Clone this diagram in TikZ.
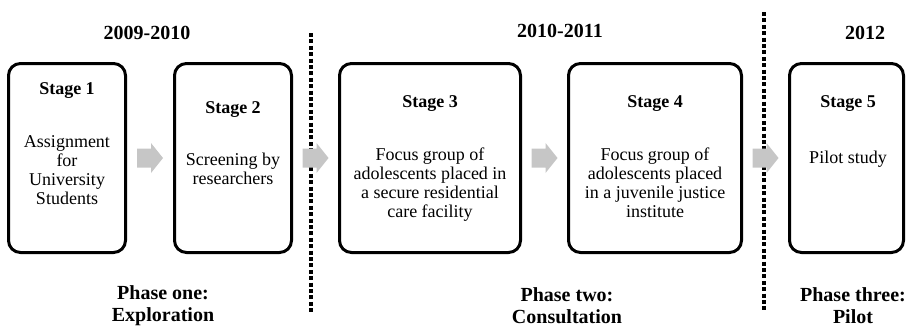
\documentclass[tikz,border=0pt]{standalone}
\usepackage{fontspec}
\setmainfont{Liberation Serif}
\usetikzlibrary{calc}
\definecolor{arrowgray}{RGB}{198,198,198}
\begin{document}
\begin{tikzpicture}[x=1pt,y=-1pt,
  stagebox/.style={draw=black, line width=3pt, rounded corners=12pt, minimum height=189pt, inner sep=0pt},
  stagetitle/.style={font=\fontsize{18}{19}\selectfont\bfseries, inner sep=0pt},
  stagebody/.style={font=\fontsize{18}{19}\selectfont, align=center, inner sep=0pt},
  yearlabel/.style={font=\fontsize{20}{22}\selectfont\bfseries, inner sep=0pt},
  phaselabel/.style={font=\fontsize{20}{22}\selectfont\bfseries, align=center, inner sep=0pt},
  sepline/.style={line width=3.5pt, dash pattern=on 4pt off 2.4pt},
  blockarrow/.style={fill=arrowgray, draw=none}
]
\useasboundingbox (0,0) rectangle (908,327);

% boxes
\node[stagebox, minimum width=117pt] (b1) at (67,158) {};
\node[stagebox, minimum width=117pt] (b2) at (233,158) {};
\node[stagebox, minimum width=181pt] (b3) at (430,158) {};
\node[stagebox, minimum width=173pt] (b4) at (655,158) {};
\node[stagebox, minimum width=114pt] (b5) at (846.5,158) {};

% titles
\node[stagetitle] (t1) at (67,91) {Stage 1};
\node[stagetitle] (t2) at (233,110) {Stage 2};
\node[stagetitle] (t3) at (430,104) {Stage 3};
\node[stagetitle] (t4) at (655,104) {Stage 4};
\node[stagetitle] (t5) at (848,104) {Stage 5};

% bodies
\node[stagebody] (x1) at (67,170) {Assignment\\for\\University\\Students};
\node[stagebody] (x2) at (233,169) {Screening by\\researchers};
\node[stagebody] (x3) at (430,185) {Focus group of\\adolescents placed in\\a secure residential\\care facility};
\node[stagebody] (x4) at (655,183) {Focus group of\\adolescents placed\\in a juvenile justice\\institute};
\node[stagebody] (x5) at (848,159) {Pilot study};

% years
\node[yearlabel] (y1) at (147,33) {2009-2010};
\node[yearlabel] (y2) at (560,31) {2010-2011};
\node[yearlabel] (y3) at (865,33) {2012};

% phases
\node[phaselabel] (p1) at (163,306) {Phase one:\\Exploration};
\node[phaselabel] (p2) at (567,306) {Phase two:\\Consultation};
\node[phaselabel] (p3) at (853,306) {Phase three:\\Pilot};

% separators
\coordinate (s1a) at (311,33);
\coordinate (s1b) at (311,313);
\coordinate (s2a) at (764,12);
\coordinate (s2b) at (764,312);
\draw[sepline] (s1a) -- (s1b);
\draw[sepline] (s2a) -- (s2b);

% arrows between boxes
\coordinate (m1) at ($(b1.east)!0.5!(b2.west)$);
\coordinate (m2) at ($(b2.east)!0.5!(b3.west)$);
\coordinate (m3) at ($(b3.east)!0.5!(b4.west)$);
\coordinate (m4) at ($(b4.east)!0.5!(b5.west)$);
\foreach \m in {m1,m2,m3,m4}{
  \fill[blockarrow, shift={(\m)}] (-13,-9.5) -- (1,-9.5) -- (1,-15) -- (13,0) -- (1,15) -- (1,9.5) -- (-13,9.5) -- cycle;
}
\end{tikzpicture}
\end{document}
